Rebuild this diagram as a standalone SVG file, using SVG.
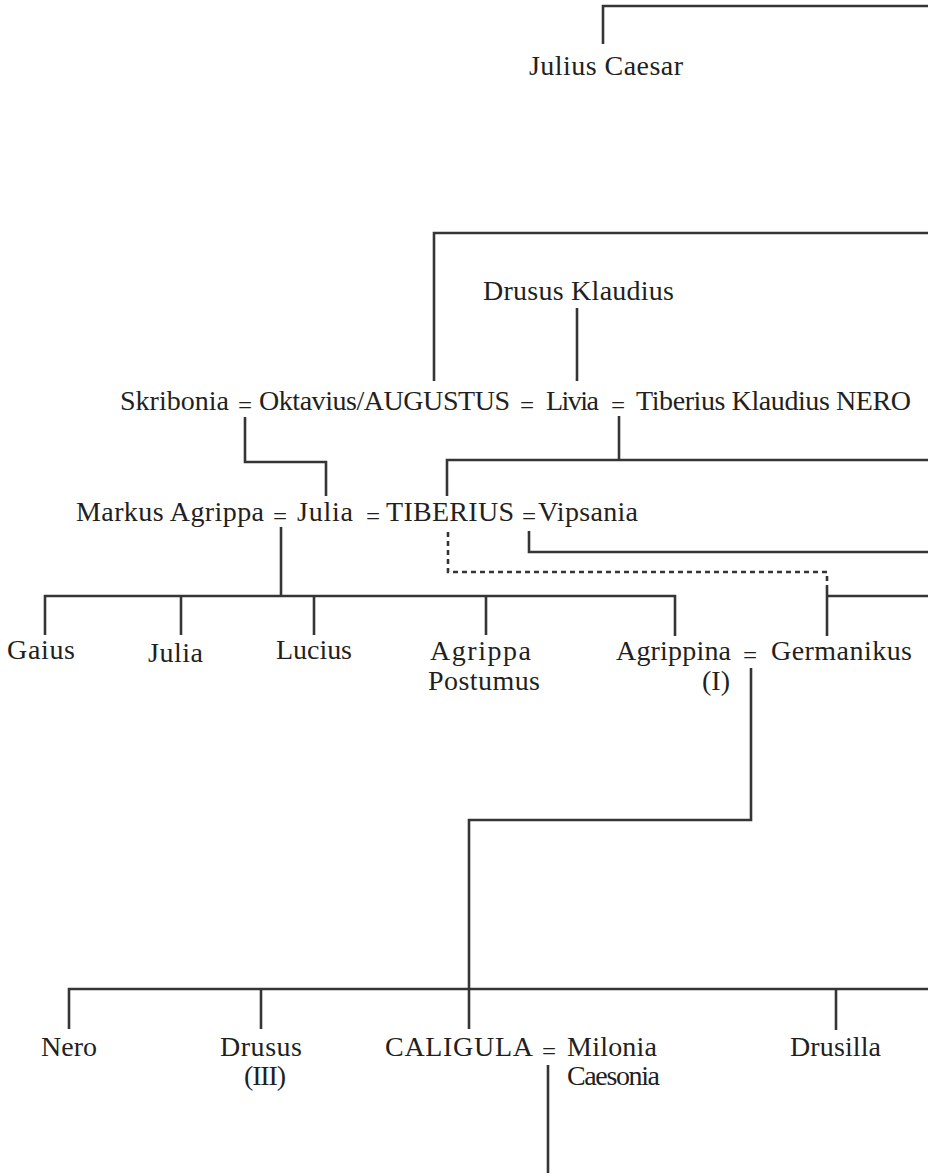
<svg xmlns="http://www.w3.org/2000/svg" width="928" height="1176" viewBox="0 0 928 1176">
<style>
text{font-family:'Liberation Serif','Times New Roman',serif;fill:#231f20}
.t{font-size:28px}
.eq{font-size:25px}
.l{fill:none;stroke:#353535;stroke-width:2.6;stroke-linejoin:miter;stroke-linecap:butt}
.d{fill:none;stroke:#353535;stroke-width:2.6;stroke-dasharray:5 4}
</style>
<rect width="928" height="1176" fill="#ffffff"/>
<g id="connectors">
<path class="l" d="M603 44 V6 H928"/>
<path class="l" d="M434 381 V233 H928"/>
<path class="l" d="M577 308 V381"/>
<path class="l" d="M245 417 V462 H326 V496"/>
<path class="l" d="M619 416 V460 H447 V496 M619 460 H928"/>
<path class="l" d="M529 531 V552 H928"/>
<path class="d" d="M448 532 V572 H827 V590"/>
<path class="l" d="M827 590 V636 M827 596 H928"/>
<path class="l" d="M281 527 V596 M45 635 V596 H675 V636 M181 596 V635 M314 596 V635 M486 596 V635"/>
<path class="l" d="M751 668 V820 H469 V1029"/>
<path class="l" d="M69 1029 V989 H928 M261 989 V1029 M836 989 V1030"/>
<path class="l" d="M548 1065 V1173"/>
</g>
<g id="julius-caesar"><text class="t" x="529" y="75" textLength="154">Julius Caesar</text></g>
<g id="drusus-klaudius"><text class="t" x="483" y="300" textLength="191">Drusus Klaudius</text></g>
<g id="skribonia"><text class="t" x="120" y="410" textLength="109">Skribonia</text></g>
<g id="eq1"><text class="eq" x="238" y="414">=</text></g>
<g id="augustus"><text class="t" x="259" y="410" textLength="251">Oktavius/AUGUSTUS</text></g>
<g id="eq2"><text class="eq" x="520" y="414">=</text></g>
<g id="livia"><text class="t" x="546" y="410" textLength="53">Livia</text></g>
<g id="eq3"><text class="eq" x="611" y="414">=</text></g>
<g id="tiberius-klaudius-nero"><text class="t" x="636" y="410" textLength="275">Tiberius Klaudius NERO</text></g>
<g id="markus-agrippa"><text class="t" x="76" y="521" textLength="188">Markus Agrippa</text></g>
<g id="eq4"><text class="eq" x="273" y="525">=</text></g>
<g id="julia-mother"><text class="t" x="297" y="521" textLength="56">Julia</text></g>
<g id="eq5"><text class="eq" x="366" y="525">=</text></g>
<g id="tiberius"><text class="t" x="386" y="521" textLength="128">TIBERIUS</text></g>
<g id="eq6"><text class="eq" x="522" y="525">=</text></g>
<g id="vipsania"><text class="t" x="538" y="521" textLength="100">Vipsania</text></g>
<g id="gaius"><text class="t" x="7" y="659" textLength="68">Gaius</text></g>
<g id="julia-daughter"><text class="t" x="148" y="662" textLength="55">Julia</text></g>
<g id="lucius"><text class="t" x="276" y="659" textLength="76">Lucius</text></g>
<g id="agrippa-postumus"><text class="t" x="430" y="660" textLength="101">Agrippa</text><text class="t" x="428" y="690" textLength="112">Postumus</text></g>
<g id="agrippina"><text class="t" x="616" y="660" textLength="115">Agrippina</text><text class="t" x="702" y="690">(I)</text></g>
<g id="eq7"><text class="eq" x="743" y="664">=</text></g>
<g id="germanikus"><text class="t" x="771" y="660" textLength="141">Germanikus</text></g>
<g id="nero"><text class="t" x="41" y="1056" textLength="56">Nero</text></g>
<g id="drusus-iii"><text class="t" x="220" y="1056" textLength="82">Drusus</text><text class="t" x="244" y="1085" textLength="42">(III)</text></g>
<g id="caligula"><text class="t" x="385" y="1056" textLength="148">CALIGULA</text></g>
<g id="eq8"><text class="eq" x="542" y="1060">=</text></g>
<g id="milonia-caesonia"><text class="t" x="567" y="1056" textLength="90">Milonia</text><text class="t" x="567" y="1085" textLength="93">Caesonia</text></g>
<g id="drusilla"><text class="t" x="790" y="1056" textLength="91">Drusilla</text></g>
</svg>
